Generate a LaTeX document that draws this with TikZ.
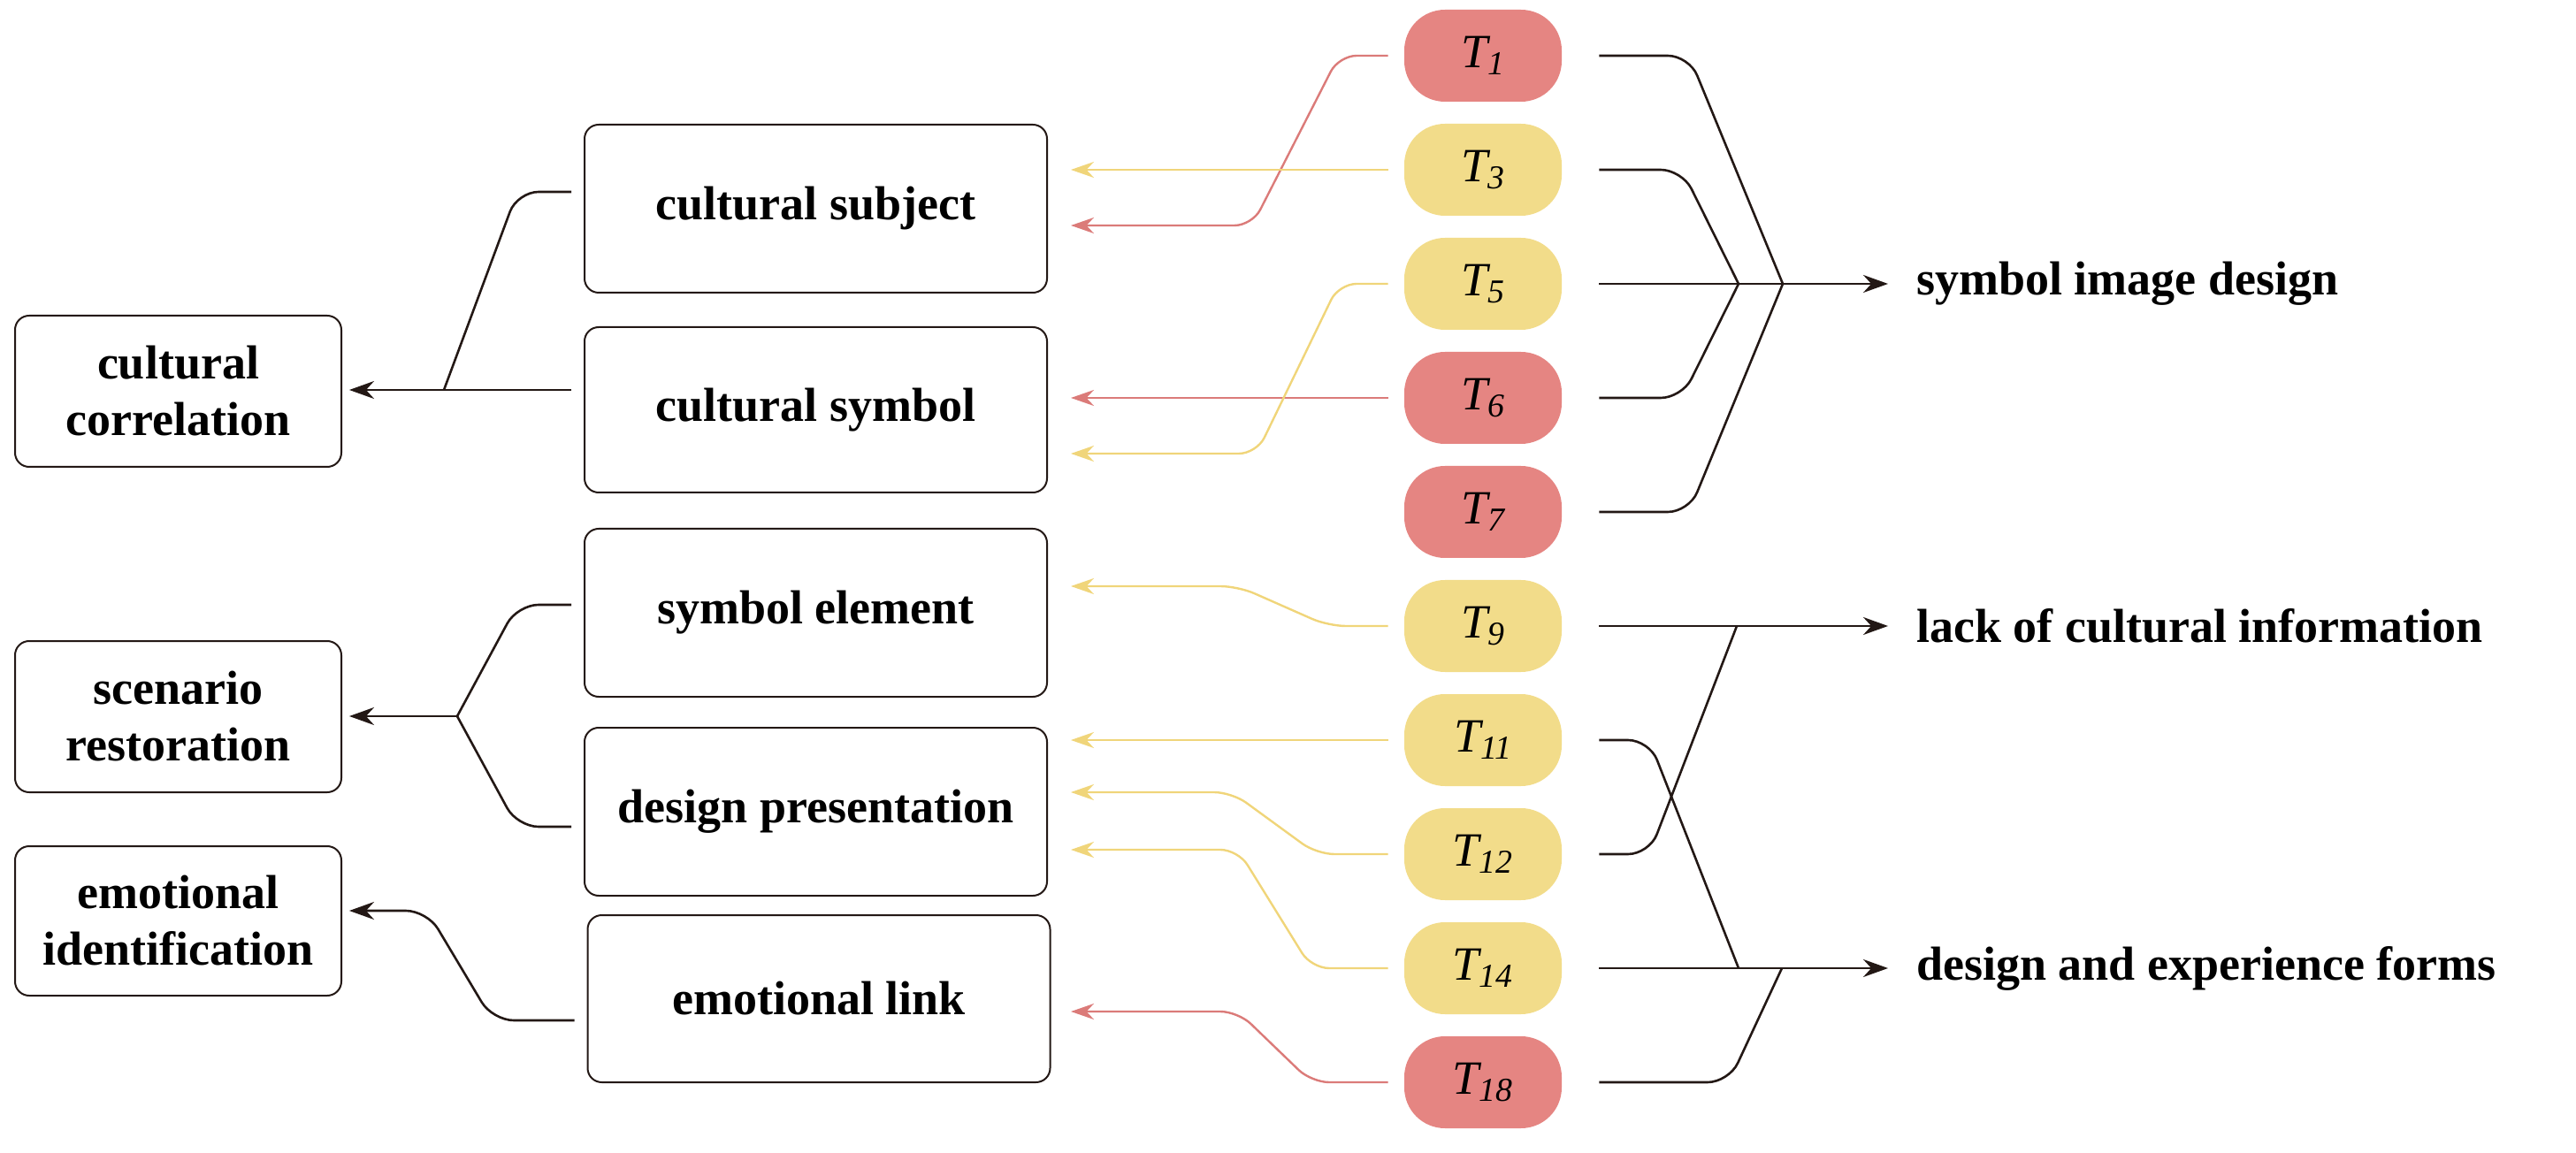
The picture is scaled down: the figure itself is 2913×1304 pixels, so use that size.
\documentclass[tikz,border=0pt]{standalone}
\usepackage{fontspec}
\setmainfont{Liberation Serif}
\usetikzlibrary{arrows.meta}
\definecolor{pr}{HTML}{E58582}
\definecolor{py}{HTML}{F2DC8A}
\definecolor{lr}{HTML}{DB7B79}
\definecolor{ly}{HTML}{F0D57A}
\definecolor{ink}{HTML}{231815}
\begin{document}
\begin{tikzpicture}[x=0.5pt,y=-0.5pt,
 txt/.style={font=\fontsize{27}{32}\selectfont\bfseries},
 box/.style={draw=ink,line width=1pt,rounded corners=8pt,inner sep=0pt,txt,align=center},
 pill/.style={rounded corners=23pt,minimum width=89pt,minimum height=52pt,inner sep=0pt,font=\fontsize{27}{32}\selectfont\itshape},
 red/.style={pill,fill=pr}, yel/.style={pill,fill=py},
 blk/.style={draw=ink,line width=1.3pt,rounded corners=12pt},
 arr/.style={-{Stealth[length=14pt,width=10pt]}},
 rl/.style={draw=lr,line width=1.2pt,rounded corners=10pt,-{Stealth[length=13pt,width=9pt]}},
 yl/.style={draw=ly,line width=1.2pt,rounded corners=10pt,-{Stealth[length=13pt,width=9pt]}}]
\useasboundingbox (0,0) rectangle (2913,1304);
% pills
\node[red] (t1) at (1677,63) {T\textsubscript{1}};
\node[yel] (t3) at (1677,192) {T\textsubscript{3}};
\node[yel] (t5) at (1677,321) {T\textsubscript{5}};
\node[red] (t6) at (1677,450) {T\textsubscript{6}};
\node[red] (t7) at (1677,579) {T\textsubscript{7}};
\node[yel] (t9) at (1677,708) {T\textsubscript{9}};
\node[yel] (t11) at (1677,837) {T\textsubscript{11}};
\node[yel] (t12) at (1677,966) {T\textsubscript{12}};
\node[yel] (t14) at (1677,1095) {T\textsubscript{14}};
\node[red] (t18) at (1677,1224) {T\textsubscript{18}};
% middle boxes
\node[box,minimum width=261.5pt,minimum height=95pt] (cs) at (922.5,236) {cultural subject};
\node[box,minimum width=261.5pt,minimum height=93.5pt] (cy) at (922.5,463.5) {cultural symbol};
\node[box,minimum width=261.5pt,minimum height=95pt] (se) at (922.5,693) {symbol element};
\node[box,minimum width=261.5pt,minimum height=95pt] (dp) at (922.5,918) {design presentation};
\node[box,minimum width=261.5pt,minimum height=94.5pt] (el) at (926,1129.5) {emotional link};
% left boxes
\node[box,minimum width=184.5pt,minimum height=85.5pt] (cc) at (201.5,442.5) {cultural\\correlation};
\node[box,minimum width=184.5pt,minimum height=85.5pt] (sr) at (201.5,810.5) {scenario\\restoration};
\node[box,minimum width=184.5pt,minimum height=84.5pt] (ei) at (201.5,1041.5) {emotional\\identification};
% right labels
\node[txt,anchor=west] (o1) at (2160,321) {symbol image design};
\node[txt,anchor=west] (o2) at (2160,708) {lack of cultural information};
\node[txt,anchor=west] (o3) at (2160,1095) {design and experience forms};
\coordinate (a1) at (2135,321); \coordinate (a2) at (2135,708); \coordinate (a3) at (2135,1095);
% right black connectors
\draw[blk] ([xshift=21pt]t3.east) -- (1902,192) -- (1966,321);
\draw[blk] ([xshift=21pt]t6.east) -- (1902,450) -- (1966,321);
\draw[blk] ([xshift=21pt]t1.east) -- (1910,63) -- (2016,321);
\draw[blk] ([xshift=21pt]t7.east) -- (1910,579) -- (2016,321);
\draw[blk,arr] ([xshift=21pt]t5.east) -- (a1);
\draw[blk,arr] ([xshift=21pt]t9.east) -- (a2);
\draw[blk] ([xshift=21pt]t11.east) -- (1865,837) -- (1966,1095);
\draw[blk] ([xshift=21pt]t12.east) -- (1865,966) -- (1964,708);
\draw[blk] ([xshift=21pt]t18.east) -- (1955,1224) -- (2015,1095);
\draw[blk,arr] ([xshift=21pt]t14.east) -- (a3);
% coloured connectors
\draw[rl] ([xshift=-9pt]t1.west) -- (1514,63) -- (1416,255) -- (1211,255);
\draw[yl] ([xshift=-9pt]t3.west) -- (1211,192);
\draw[rl] ([xshift=-9pt]t6.west) -- (1211,450);
\draw[yl] ([xshift=-9pt]t5.west) -- (1514,321) -- (1421,513) -- (1211,513);
\draw[yl] ([xshift=-9pt]t9.west) -- (1502,708) -- (1400,663) -- (1211,663);
\draw[yl] ([xshift=-9pt]t11.west) -- (1211,837);
\draw[yl] ([xshift=-9pt]t12.west) -- (1489,966) -- (1393,896) -- (1211,896);
\draw[yl] ([xshift=-9pt]t14.west) -- (1483,1095) -- (1400,961) -- (1211,961);
\draw[rl] ([xshift=-9pt]t18.west) -- (1483,1224) -- (1400,1144) -- (1211,1144);
% left black connectors
\draw[blk] ([xshift=-7pt]cs.west |- 0,217) -- (585,217) -- (502,441);
\draw[blk,arr] ([xshift=-7pt]cy.west |- 0,441) -- ([xshift=4pt]cc.east |- 0,441);
\draw[blk] ([xshift=-7pt]se.west |- 0,684) -- (585,684) -- (517,810);
\draw[blk] ([xshift=-7pt]dp.west |- 0,935) -- (585,935) -- (517,810);
\draw[blk,arr] (517,810) -- ([xshift=4pt]sr.east |- 0,810);
\draw[blk,arr] ([xshift=-7pt]el.west |- 0,1154) -- (557,1154) -- (483,1030) -- ([xshift=4pt]ei.east |- 0,1030);
\end{tikzpicture}
\end{document}
